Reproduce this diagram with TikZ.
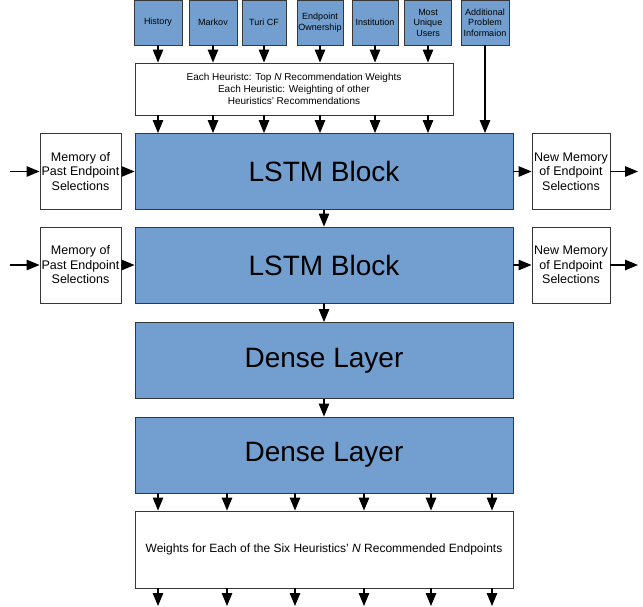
\documentclass[tikz,border=0pt]{standalone}
\usepackage{fontspec}
\setmainfont{Liberation Sans}
\definecolor{LayerBlue}{HTML}{729FCF}
\definecolor{EdgeGrey}{RGB}{55,55,55}
\usetikzlibrary{arrows.meta,positioning}

\begin{document}
\begin{tikzpicture}[x=1pt,y=-1pt,
    heurbox/.style={draw=EdgeGrey,fill=LayerBlue,line width=0.9pt,inner sep=0pt,
      minimum height=45pt,align=center,font=\fontsize{9}{10.5}\selectfont},
    infobox/.style={draw=EdgeGrey,fill=white,line width=0.9pt,inner sep=0pt,align=center},
    membox/.style={infobox,minimum height=76pt,font=\fontsize{12.5}{14.5}\selectfont},
    layerbox/.style={draw=EdgeGrey,fill=LayerBlue,line width=0.9pt,inner sep=0pt,
      minimum width=378pt,minimum height=76pt,font=\fontsize{28}{32}\selectfont},
    flow/.style={-{Triangle[length=13pt,width=10.5pt]},line width=1.2pt,black}]
  \useasboundingbox (0,0) rectangle (643,606);

  % heuristic inputs
  \foreach \x/\w/\n/\t in {
      158/48/hist/History,
      213/48/markov/Markov,
      264/44/turi/Turi CF,
      320/46/owner/{Endpoint\\Ownership},
      375/46/inst/Institution,
      428/47/most/{Most\\Unique\\Users},
      485/48/addl/{Additional\\Problem\\Informaion}}{
    \node[heurbox,minimum width=\w pt] (\n) at (\x,22.5) {\t};
  }
  \node[infobox,minimum width=318pt,minimum height=52pt,
        font=\fontsize{10}{12}\selectfont] (head) at (294,89)
    {Each Heuristc: Top \textit{N} Recommendation Weights\\
     Each Heuristic: Weighting of other\\
     Heuristics' Recommendations};

  % network
  \node[layerbox] (lstmA)  at (324,171.5) {LSTM Block};
  \node[layerbox] (lstmB)  at (324,265)   {LSTM Block};
  \node[layerbox] (denseA) at (324,360.5) {Dense Layer};
  \node[layerbox] (denseB) at (324,455)   {Dense Layer};
  \node[infobox,minimum width=378pt,minimum height=77pt,
        font=\fontsize{12}{14}\selectfont] (weights) at (324,549.5)
    {Weights for Each of the Six Heuristics' \textit{N} Recommended Endpoints};

  % memories
  \node[membox,minimum width=81pt] (memA) at (80.5,171.5) {Memory of\\Past Endpoint\\Selections};
  \node[membox,minimum width=81pt] (memB) at (80.5,265)   {Memory of\\Past Endpoint\\Selections};
  \node[membox,minimum width=78pt] (newA) at (571,171.5)  {New Memory\\of Endpoint\\Selections};
  \node[membox,minimum width=78pt] (newB) at (571,265)    {New Memory\\of Endpoint\\Selections};
  \coordinate (inA)  at (10,171.5);
  \coordinate (inB)  at (10,265);
  \coordinate (outA) at (638,171.5);
  \coordinate (outB) at (638,265);

  % arrows
  \foreach \n in {hist,markov,turi,owner,inst,most}{
    \draw[flow] (\n.south) -- (\n.south |- head.north);
    \draw[flow] (head.south -| \n) -- (lstmA.north -| \n);
  }
  \draw[flow] (addl.south) -- (addl.south |- lstmA.north);
  \draw[flow] (inA) -- (memA.west);
  \draw[flow] (inB) -- (memB.west);
  \draw[flow] (memA.east) -- (lstmA.west);
  \draw[flow] (memB.east) -- (lstmB.west);
  \draw[flow] (lstmA.east) -- (newA.west);
  \draw[flow] (lstmB.east) -- (newB.west);
  \draw[flow] (newA.east) -- (outA);
  \draw[flow] (newB.east) -- (outB);
  \draw[flow] (lstmA) -- (lstmB);
  \draw[flow] (lstmB) -- (denseA);
  \draw[flow] (denseA) -- (denseB);
  \foreach \x [count=\i] in {158,227,295,364,431,492}{
    \coordinate (col\i) at (\x,606);
    \draw[flow] (denseB.south -| col\i) -- (weights.north -| col\i);
    \draw[flow] (weights.south -| col\i) -- (col\i);
  }
\end{tikzpicture}
\end{document}
